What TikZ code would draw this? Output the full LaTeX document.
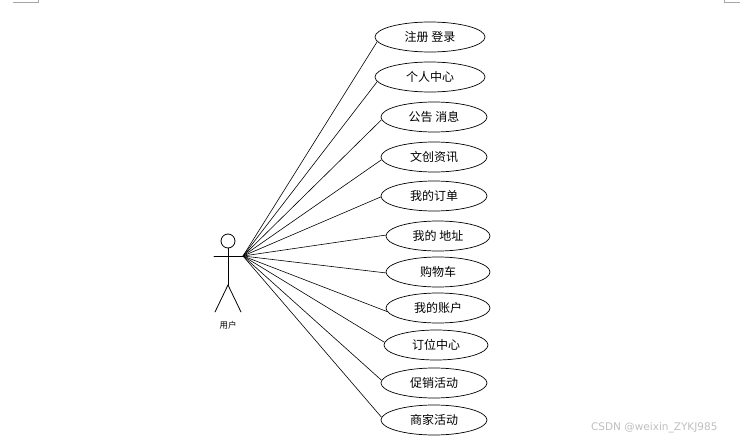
\documentclass[tikz,border=0pt]{standalone}
\usepackage{fontspec}
\setmainfont{Noto Sans CJK SC}
\newfontfamily\markfont{DejaVu Sans}
\usetikzlibrary{positioning,shapes.geometric}

\begin{document}
\begin{tikzpicture}[
  x=1pt,y=1pt,
  usecase/.style={ellipse,draw,line width=0.7pt,minimum width=#1,minimum height=30pt,inner sep=0pt,font=\fontsize{12}{14}\selectfont},
  usecase/.default=106pt,
  link/.style={line width=0.6pt},
  actorline/.style={line width=0.8pt,line cap=round},
  cornermark/.style={gray!70,line width=0.8pt},
]
\useasboundingbox (0,0) rectangle (740,-442);

% === PAGE CORNER MARKS ===
\draw[cornermark] (13,-2.5) -- (38,-2.5) -- (38,0);
\draw[cornermark] (740,-2.5) -- (724,-2.5) -- (724,0);

% === ACTOR ===
\node[circle,draw,line width=0.8pt,minimum size=14pt,inner sep=0pt] (head) at (228,-241) {};
\coordinate (hub) at (243,-256);
\coordinate (hip) at (228,-285);
\draw[actorline] (head.south) -- (hip);
\draw[actorline] (214,-256) -- (hub);
\draw[actorline] (hip) -- (215,-312);
\draw[actorline] (hip) -- (241,-312);
\node[font=\fontsize{8.5}{10}\selectfont] (user) at (228,-325) {用户};

% === USE CASES ===
\node[usecase=110pt] (reg)     at (430,-37)  {注册 登录};
\node[usecase=110pt] (center)  at (430,-77)  {个人中心};
\node[usecase]       (notice)  at (434,-117) {公告 消息};
\node[usecase]       (news)    at (434,-157) {文创资讯};
\node[usecase]       (orders)  at (434,-196) {我的订单};
\node[usecase=104pt] (address) at (438,-236) {我的 地址};
\node[usecase=104pt] (cart)    at (438,-272) {购物车};
\node[usecase=104pt] (account) at (438,-308) {我的账户};
\node[usecase=104pt] (booking) at (436,-345) {订位中心};
\node[usecase]       (promo)   at (434,-383) {促销活动};
\node[usecase]       (shop)    at (434,-420) {商家活动};

% Associations (to the left side of each use case)
\draw[link] (hub) -- (reg.185);
\draw[link] (hub) -- (center.185);
\draw[link] (hub) -- (notice.183);
\draw[link] (hub) -- (news.183);
\draw[link] (hub) -- (orders.181);
\draw[link] (hub) -- (address.179);
\draw[link] (hub) -- (cart.181);
\draw[link] (hub) -- (account.184);
\draw[link] (hub) -- (booking.177);
\draw[link] (hub) -- (promo.177);
\draw[link] (hub) -- (shop.177);

% Watermark
\node[font=\markfont\fontsize{10.5}{12}\selectfont,text=gray!50,anchor=east] (mark) at (721,-428) {CSDN @weixin\_ZYKJ985};

\end{tikzpicture}
\end{document}
